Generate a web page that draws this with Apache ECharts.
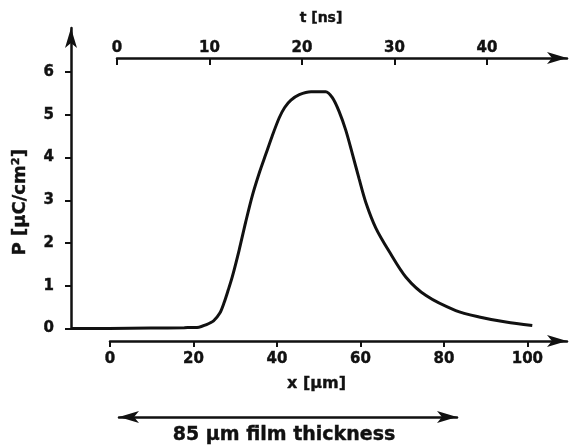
<!DOCTYPE html>
<html>
<head>
<meta charset="utf-8">
<script src="https://cdn.jsdelivr.net/npm/echarts@6/dist/echarts.min.js"></script>
<style>html,body{margin:0;padding:0;background:#fff}#c{width:578px;height:448px}</style>
</head>
<body>
<div id="c"></div>
<script>
// Position along the film x [µm]
var xPositions = [-9.1, 0, 10, 18, 21.5, 23, 25, 26.5, 27.5, 28.5, 29.5, 31.1, 32.7, 34.3, 36, 37.5, 39, 40.7, 42, 43.5, 45.5, 48.3, 51.8, 53.4, 55, 56.6, 58.2, 59.8, 61.4, 63.8, 67, 71, 75.8, 82.9, 88.5, 94.9, 101.2];
// Polarization P [µC/cm²]
var pValues = [0, 0, 0.01, 0.02, 0.03, 0.08, 0.18, 0.36, 0.6, 0.9, 1.22, 1.83, 2.5, 3.12, 3.66, 4.08, 4.5, 4.93, 5.17, 5.34, 5.47, 5.54, 5.54, 5.4, 5.08, 4.64, 4.08, 3.5, 2.95, 2.35, 1.8, 1.2, 0.77, 0.42, 0.27, 0.15, 0.07];
// Tick labels
var pTicks = [0, 1, 2, 3, 4, 5, 6];
var xTicks = [0, 20, 40, 60, 80, 100];
var tTicks = [0, 10, 20, 30, 40];
var filmThickness = 85;

var FONT = 'DejaVu Sans';
var INK = '#111';
var chart = echarts.init(document.getElementById('c'));
var data = xPositions.map(function (x, i) { return [x, pValues[i]]; });
var arrowLine = { show: true, onZero: false, lineStyle: { color: INK, width: 2.5 }, symbol: ['none', 'arrow'], symbolSize: [9, 20] };
function txt(size) {
  return { fontFamily: FONT, fontWeight: 'bold', fontSize: size, color: INK, textBorderColor: INK, textBorderWidth: 0.4 };
}

chart.setOption({
  animation: false,
  backgroundColor: '#fff',
  grid: [
    { left: 71, top: 28, width: 496, height: 300.5 },
    { left: 110, top: 340, width: 457, height: 1 },
    { left: 117, top: 58, width: 450, height: 1 },
    { left: 119, top: 416, width: 338, height: 1 }
  ],
  xAxis: [
    { gridIndex: 0, type: 'value', min: -9.09, max: 109.5, show: false },
    { gridIndex: 1, type: 'value', min: 0, max: 109.5, position: 'bottom',
      name: 'x [µm]', nameLocation: 'middle', nameGap: 35,
      nameTextStyle: Object.assign(txt(16), { padding: [0, 44, 0, 0] }),
      axisLine: arrowLine,
      axisTick: { show: true, customValues: xTicks, length: 6, lineStyle: { color: INK, width: 2 } },
      axisLabel: Object.assign(txt(15), { customValues: xTicks, margin: 11 }),
      splitLine: { show: false } },
    { gridIndex: 2, type: 'value', min: 0, max: 48.65, position: 'top',
      name: 't [ns]', nameLocation: 'middle', nameGap: 33,
      nameTextStyle: Object.assign(txt(14), { padding: [0, 42, 0, 0] }),
      axisLine: arrowLine,
      axisTick: { show: true, inside: true, customValues: tTicks, length: 7, lineStyle: { color: INK, width: 2 } },
      axisLabel: Object.assign(txt(15), { customValues: tTicks, margin: 2 }),
      splitLine: { show: false } },
    { gridIndex: 3, type: 'value', min: 0, max: filmThickness, position: 'bottom',
      name: filmThickness + ' µm film thickness', nameLocation: 'middle', nameGap: 9,
      nameTextStyle: Object.assign(txt(19), { padding: [0, 8, 0, 0] }),
      axisLine: { show: true, onZero: false, lineStyle: { color: INK, width: 2.5 }, symbol: ['arrow', 'arrow'], symbolSize: [9, 20] },
      axisTick: { show: false }, axisLabel: { show: false }, splitLine: { show: false } }
  ],
  yAxis: [
    { gridIndex: 0, type: 'value', min: 0, max: 7.03,
      name: 'P [µC/cm²]', nameLocation: 'middle', nameGap: 42, nameRotate: 90,
      nameTextStyle: Object.assign(txt(18), { padding: [0, 48, 0, 0] }),
      axisLine: arrowLine,
      axisTick: { show: true, customValues: pTicks, length: 6, lineStyle: { color: INK, width: 2 } },
      axisLabel: Object.assign(txt(15), { customValues: pTicks, margin: 17 }),
      splitLine: { show: false } },
    { gridIndex: 1, type: 'value', show: false },
    { gridIndex: 2, type: 'value', show: false },
    { gridIndex: 3, type: 'value', show: false }
  ],
  series: [{
    type: 'line', xAxisIndex: 0, yAxisIndex: 0, data: data,
    showSymbol: false, smooth: 0.3,
    lineStyle: { color: INK, width: 3 }
  }]
});
</script>
</body>
</html>
